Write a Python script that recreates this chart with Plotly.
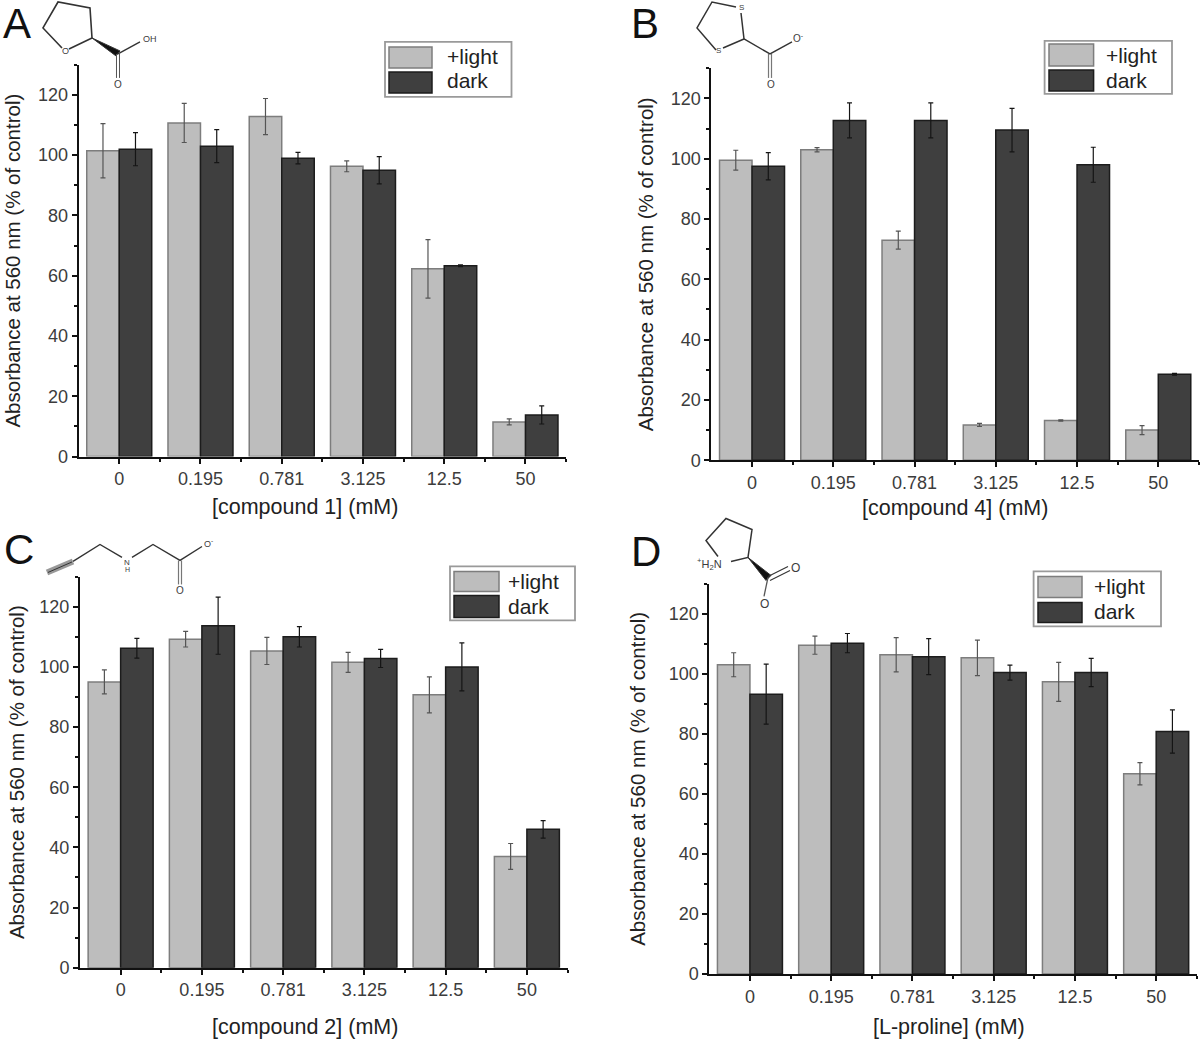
import plotly.graph_objects as go

W, H = 1200, 1039
# the page as photographed comes out slightly compressed vertically; pixel targets are corrected with this factor
Y_FIX = 1039 / 1030

# ---------- data ----------
concentrations = ["0", "0.195", "0.781", "3.125", "12.5", "50"]

a_light = [101.5, 110.7, 112.8, 96.3, 62.3, 11.5]
a_light_err = [9.0, 6.5, 6.0, 1.8, 9.7, 1.0]
a_dark = [102.0, 103.0, 99.0, 95.0, 63.3, 13.8]
a_dark_err = [5.5, 5.5, 1.9, 4.5, 0.3, 3.0]

b_light = [99.5, 103.0, 73.0, 11.7, 13.2, 10.0]
b_light_err = [3.3, 0.7, 3.0, 0.5, 0.2, 1.5]
b_dark = [97.5, 112.7, 112.7, 109.5, 98.0, 28.5]
b_dark_err = [4.5, 5.8, 5.8, 7.2, 5.8, 0.3]

c_light = [95.0, 109.2, 105.3, 101.5, 90.7, 37.0]
c_light_err = [4.0, 2.6, 4.5, 3.3, 6.0, 4.3]
c_dark = [106.2, 113.7, 110.0, 102.8, 100.0, 46.0]
c_dark_err = [3.3, 9.5, 3.4, 3.0, 8.0, 2.9]

d_light = [103.0, 109.5, 106.3, 105.3, 97.3, 66.7]
d_light_err = [4.0, 3.0, 5.7, 5.9, 6.5, 3.7]
d_dark = [93.2, 110.2, 105.7, 100.4, 100.4, 80.8]
d_dark_err = [10.0, 3.2, 6.0, 2.5, 4.7, 7.2]

y_title = "Absorbance at 560 nm (% of control)"
series_names = ["+light", "dark"]

# ---------- layout of the four panels (pixels) ----------
FONT = "Liberation Sans"
TXT = "#3c3c3c"
LIGHT, LIGHT_EDGE = "#bdbdbd", "#7d7d7d"
DARK, DARK_EDGE = "#3f3f3f", "#1c1c1c"

PANELS = [
    dict(letter="A", lx=2, ly=24, left=78.6, y0=457, y120=95, title="[compound 1] (mM)", tx=305, ty=507,
         light=a_light, le=a_light_err, dark=a_dark, de=a_dark_err, standoff=12,
         box=(385, 42, 511.5, 97), sw=(389, 432, 47, 68, 72, 93), tl=(446, 57, 81)),
    dict(letter="B", lx=630, ly=24, left=711.4, y0=460.7, y120=98.5, title="[compound 4] (mM)", tx=955, ty=508,
         light=b_light, le=b_light_err, dark=b_dark, de=b_dark_err, standoff=12,
         box=(1044.6, 41, 1172, 94), sw=(1049, 1093.6, 44, 66, 70, 91), tl=(1105, 56, 81)),
    dict(letter="C", lx=3, ly=550, left=80, y0=968.7, y120=607.3, title="[compound 2] (mM)", tx=305, ty=1028,
         light=c_light, le=c_light_err, dark=c_dark, de=c_dark_err, standoff=9,
         box=(450, 567, 575, 621), sw=(454, 499, 572, 592, 596, 618), tl=(507, 582, 607)),
    dict(letter="D", lx=630, ly=552, left=709.3, y0=975, y120=614.3, title="[L-proline] (mM)", tx=949, ty=1028,
         light=d_light, le=d_light_err, dark=d_dark, de=d_dark_err, standoff=17,
         box=(1033.6, 572, 1161, 627), sw=(1038, 1082, 577, 598, 603, 623), tl=(1092.5, 587, 612)),
]
X_SPAN = 487.5
Y_TOP = 130


def px(x):
    return x / W


def py(y):
    return 1 - y * Y_FIX / H


shapes, annotations = [], []


def text(x, y, s, size, anchor="center", color=TXT):
    annotations.append(dict(x=px(x), y=py(y), xref="paper", yref="paper", text=s, showarrow=False,
                            xanchor=anchor, yanchor="middle", borderpad=0,
                            font=dict(family=FONT, size=size, color=color)))


def rect(x0, y0, x1, y1, fill, edge, w=1.5):
    shapes.append(dict(type="rect", xref="paper", yref="paper", x0=px(x0), x1=px(x1), y0=py(y0), y1=py(y1),
                       fillcolor=fill, line=dict(color=edge, width=w)))


def poly(points, color="#333333", w=1.6, closed=False, fill=None):
    path = "M " + " L ".join(f"{px(a):.5f},{py(b):.5f}" for a, b in points) + (" Z" if closed else "")
    s = dict(type="path", xref="paper", yref="paper", path=path, line=dict(color=color, width=w))
    if fill:
        s["fillcolor"] = fill
    shapes.append(s)


fig = go.Figure()
layout = {}
for i, p in enumerate(PANELS):
    sfx = "" if i == 0 else str(i + 1)
    xa, ya = "x" + sfx, "y" + sfx
    scale = (p["y0"] - p["y120"]) / 120
    top = p["y0"] - Y_TOP * scale
    for name, vals, errs, fill, edge, ecol in (
        (series_names[0], p["light"], p["le"], LIGHT, LIGHT_EDGE, "#555555"),
        (series_names[1], p["dark"], p["de"], DARK, DARK_EDGE, "#151515"),
    ):
        fig.add_trace(go.Bar(
            x=concentrations, y=vals, name=name, xaxis=xa, yaxis=ya, showlegend=False,
            marker=dict(color=fill, line=dict(color=edge, width=1.5)),
            error_y=dict(type="data", array=errs, visible=True, color=ecol, thickness=1.2, width=2.5),
        ))
    layout["xaxis" + sfx] = dict(
        domain=[px(p["left"]), px(p["left"] + X_SPAN)], anchor=ya, type="category",
        categoryorder="array", categoryarray=concentrations, range=[-0.5, 5.5],
        showgrid=False, zeroline=False, showline=True, linecolor="#111111", linewidth=2,
        ticks="outside", ticklen=5, tickwidth=1.5, tickcolor="#111111",
        tickfont=dict(family=FONT, size=18, color=TXT),
        minor=dict(tickvals=[0.5, 1.5, 2.5, 3.5, 4.5, 5.5], ticks="outside", ticklen=3, tickwidth=2,
                   tickcolor="#111111"),
    )
    layout["yaxis" + sfx] = dict(
        domain=[py(p["y0"]), py(top)], anchor=xa, range=[0, Y_TOP], tick0=0, dtick=20,
        showgrid=False, zeroline=False, showline=True, linecolor="#111111", linewidth=2,
        ticks="outside", ticklen=5, tickwidth=1.5, tickcolor="#111111",
        tickfont=dict(family=FONT, size=18, color=TXT),
        minor=dict(dtick=10, ticks="outside", ticklen=3, tickwidth=1.5, tickcolor="#111111"),
        title=dict(text=y_title, standoff=p["standoff"], font=dict(family=FONT, size=20.5, color="#222222")),
    )
    text(p["tx"], p["ty"], p["title"], 21.5, color="#222222")
    text(p["lx"], p["ly"], p["letter"], 42, anchor="left", color="#111111")
    # legend box
    x0, y0, x1, y1 = p["box"]
    rect(x0, y0, x1, y1, "white", "#9a9a9a", 1.8)
    sx0, sx1, a0, a1, b0, b1 = p["sw"]
    rect(sx0, a0, sx1, a1, LIGHT, LIGHT_EDGE)
    rect(sx0, b0, sx1, b1, DARK, DARK_EDGE)
    tx, t1, t2 = p["tl"]
    text(tx, t1, series_names[0], 21, anchor="left", color="#222222")
    text(tx, t2, series_names[1], 21, anchor="left", color="#222222")

# ---------- structural formulae drawn above the panels ----------
# A
poly([(62, 48), (43, 28), (58, 2), (90, 8), (92, 38), (69, 49)], w=1.6)
poly([(92, 38), (116, 56), (120, 51)], closed=True, fill="#111111", w=1)
poly([(118, 54), (140, 42)], w=1.4)
poly([(116.5, 54), (116.5, 78)], color="#555555", w=1)
poly([(119.5, 54), (119.5, 78)], color="#555555", w=1)
text(65, 51, "O", 9)
text(150, 39, "OH", 9)
text(118, 85, "O", 10)
# B
poly([(716, 50), (697, 28), (712, 2), (736, 7)], w=1.5)
poly([(741, 13), (744, 39), (723, 48)], w=1.5)
poly([(744, 39), (770, 54), (792, 42)], w=1.4)
poly([(768.5, 54), (768.5, 78)], color="#777777", w=1.2)
poly([(771.5, 54), (771.5, 78)], color="#777777", w=1.2)
text(741, 8, "S", 8)
text(718, 51, "S", 8)
text(798, 38, "O<sup>-</sup>", 10)
text(771, 85, "O", 10)
# C
poly([(47, 573), (73, 562)], color="#999999", w=6)
poly([(48, 573), (72, 562.5)], color="#333333", w=1)
poly([(73, 562), (100, 545), (122, 558)], w=1.4)
poly([(132, 558), (153, 545), (180, 561), (202, 547)], w=1.4)
poly([(178.5, 561), (178.5, 585)], color="#777777", w=1.2)
poly([(181.5, 561), (181.5, 585)], color="#777777", w=1.2)
text(127, 563, "N", 8)
text(127, 570, "H", 7)
text(208, 544, "O<sup>-</sup>", 9)
text(180, 591, "O", 10)
# D
poly([(718, 557), (706, 541), (726, 519), (752, 530), (748, 558), (731, 562)], w=1.5)
poly([(748, 558), (766, 581), (771, 576)], closed=True, fill="#111111", w=1)
poly([(768, 577), (788, 567)], w=1.2)
poly([(770, 581), (790, 571)], w=1.2)
poly([(768, 578), (764, 597)], color="#555555", w=1.3)
text(696, 565, "<sup>+</sup>H<sub>2</sub>N", 11, anchor="left")
text(795, 569, "O", 12)
text(764, 605, "O", 12)

fig.update_layout(
    width=W, height=H, autosize=False, margin=dict(l=0, r=0, t=0, b=0),
    paper_bgcolor="white", plot_bgcolor="rgba(0,0,0,0)",
    barmode="group", bargap=0.2, bargroupgap=0, showlegend=False,
    font=dict(family=FONT), shapes=shapes, annotations=annotations, **layout,
)
fig.write_html(
    "out.html",
    config={"responsive": False, "displayModeBar": False},
    default_width="1200px",
    default_height="1039px",
    post_script="document.body.style.margin='0';document.documentElement.style.overflow='hidden';",
)
